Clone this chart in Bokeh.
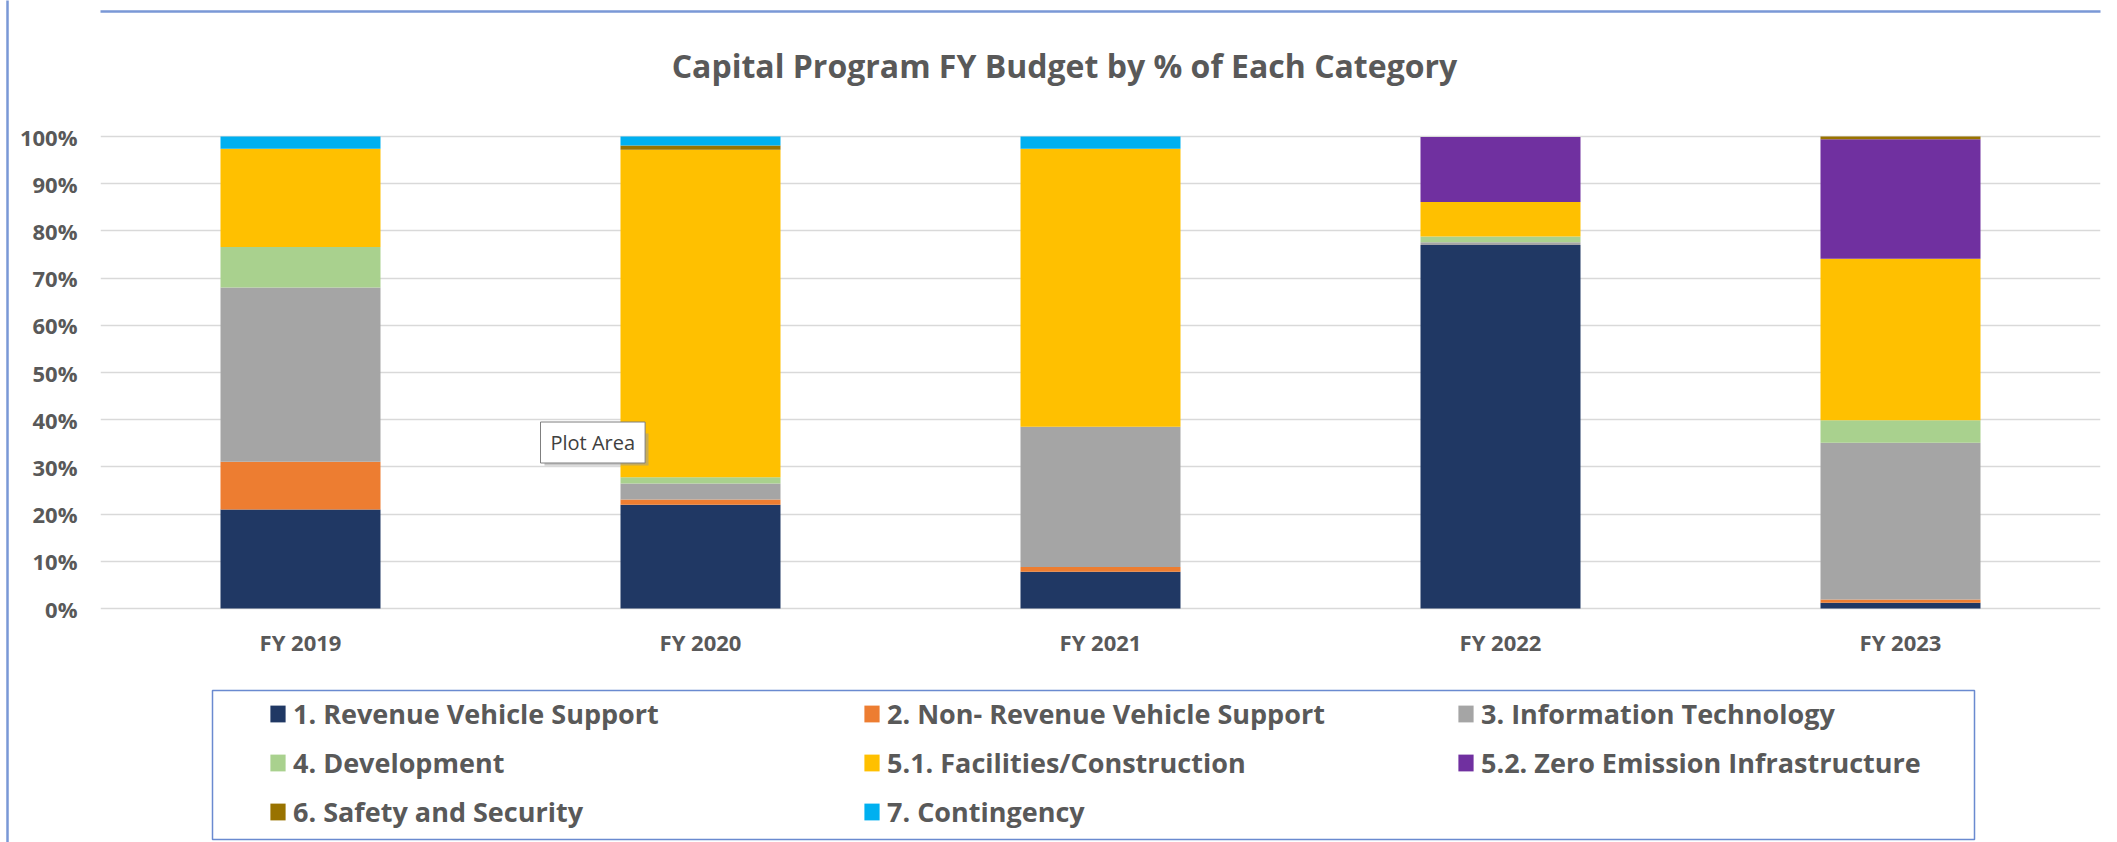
from bokeh.plotting import figure
from bokeh.models import (FactorRange, Range1d, ColumnDataSource, Legend, LegendItem,
                          FixedTicker, NumeralTickFormatter, Label, BoxAnnotation, LinearAxis)
from bokeh.embed import file_html
from bokeh.resources import INLINE

# ---- data (percent of each fiscal year's budget) ----
years = ["FY 2019", "FY 2020", "FY 2021", "FY 2022", "FY 2023"]
categories = ["1. Revenue Vehicle Support", "2. Non- Revenue Vehicle Support",
              "3. Information Technology", "4. Development",
              "5.1. Facilities/Construction", "5.2. Zero Emission Infrastructure",
              "6. Safety and Security", "7. Contingency"]
revenue_vehicle = [21.0, 22.0, 7.8, 77.0, 1.2]
non_revenue_vehicle = [10.1, 1.1, 1.0, 0.0, 0.7]
information_tech = [36.9, 3.4, 29.7, 0.6, 33.2]
development = [8.6, 1.3, 0.0, 1.2, 4.8]
facilities = [20.8, 69.4, 58.9, 7.3, 34.2]
zero_emission = [0.0, 0.0, 0.0, 13.8, 25.3]
safety_security = [0.0, 0.9, 0.0, 0.0, 0.6]
contingency = [2.6, 1.9, 2.6, 0.0, 0.0]
y_ticks = [0, 0.1, 0.2, 0.3, 0.4, 0.5, 0.6, 0.7, 0.8, 0.9, 1.0]

colors = ["#203864", "#ED7D31", "#A5A5A5", "#A9D18E", "#FFC000", "#7030A0", "#997300", "#00B0F0"]
series = [revenue_vehicle, non_revenue_vehicle, information_tech, development,
          facilities, zero_emission, safety_security, contingency]
keys = ["s%d" % i for i in range(len(series))]

data = {"year": years}
for k, s in zip(keys, series):
    data[k] = [v / 100.0 for v in s]
source = ColumnDataSource(data)

FONT = "Open Sans"
TXT = "#595959"
FRAME_BLUE = "#7A98D6"

W, H = 2117, 842
LEFT, RIGHT = 100, 17          # frame spans x 100..2100
Y0, Y100 = 608, 136            # pixel rows of 0% and 100%
ppu = float(Y0 - Y100)
y_lo = -(H - Y0) / ppu
y_hi = 1 + Y100 / ppu


def sx(xpage):
    return xpage - LEFT


def sy(ypage):
    return H - ypage


p = figure(x_range=FactorRange(factors=years, range_padding=0), y_range=Range1d(y_lo, y_hi),
           width=W, height=H, output_backend="svg", toolbar_location=None,
           min_border_left=LEFT, min_border_right=RIGHT, min_border_top=0, min_border_bottom=0)
p.outline_line_color = None
p.background_fill_color = "white"
p.border_fill_color = "white"

renderers = p.vbar_stack(keys, x="year", width=0.4, color=colors, line_color=None, source=source)

# axes
p.yaxis.ticker = FixedTicker(ticks=y_ticks)
p.yaxis.formatter = NumeralTickFormatter(format="0%")
p.xaxis.fixed_location = 0
for ax in (p.xaxis[0], p.yaxis[0]):
    ax.axis_line_color = None
    ax.major_tick_line_color = None
    ax.minor_tick_line_color = None
    ax.major_tick_out = 0
    ax.major_tick_in = 0
    ax.major_label_text_font = FONT
    ax.major_label_text_font_style = "bold"
    ax.major_label_text_font_size = "22px"
    ax.major_label_text_color = TXT
p.yaxis.major_label_standoff = 23
# a blank axis title widens the label axis so the chart-frame line sits near the page edge
p.yaxis.axis_label = " "
p.yaxis.axis_label_standoff = 0
p.yaxis.axis_label_text_font_size = "5px"
p.xaxis.major_label_standoff = 18
p.xgrid.visible = False
p.ygrid.grid_line_color = "#D9D9D9"
p.ygrid.grid_line_width = 1.5

# left edge of the chart frame, drawn as a bare axis line
edge = LinearAxis(ticker=FixedTicker(ticks=[]), axis_line_color=FRAME_BLUE, axis_line_width=2.5,
                  major_tick_line_color=None, minor_tick_line_color=None,
                  major_tick_out=0, minor_tick_out=0, major_label_text_font_size="1px")
p.add_layout(edge, "left")

# outer chart border (top edge)
p.add_layout(BoxAnnotation(left=sx(9), right=sx(2140), top=sy(11), bottom=sy(900),
                           left_units="screen", right_units="screen",
                           top_units="screen", bottom_units="screen",
                           fill_alpha=0, line_color=FRAME_BLUE, line_alpha=1, line_width=2.5))

# title
p.add_layout(Label(x=sx(1064), y=sy(65), x_units="screen", y_units="screen",
                   text="Capital Program FY Budget by % of Each Category",
                   text_font=FONT, text_font_style="bold", text_font_size="32px",
                   text_color=TXT, text_align="center", text_baseline="alphabetic"))

# legend frame
p.add_layout(BoxAnnotation(left=sx(212), right=sx(1974), top=sy(690), bottom=sy(839),
                           left_units="screen", right_units="screen",
                           top_units="screen", bottom_units="screen",
                           fill_alpha=0, line_color="#6A8AD0", line_alpha=1, line_width=1.5))

items = [LegendItem(label=c, renderers=[r]) for c, r in zip(categories, renderers)]
legend = Legend(items=items, orientation="horizontal", ncols=3,
                location=(sx(268), sy(829.7)), margin=0, padding=10, spacing=12,
                glyph_width=19, glyph_height=21, label_standoff=6,
                label_width=557, label_height=30,
                label_text_font=FONT, label_text_font_style="bold",
                label_text_font_size="27px", label_text_color=TXT,
                border_line_color=None, background_fill_alpha=0)
p.add_layout(legend, "center")

# Excel "Plot Area" tooltip
p.add_layout(BoxAnnotation(left=sx(544), right=sx(648), top=sy(433), bottom=sy(465),
                           left_units="screen", right_units="screen",
                           top_units="screen", bottom_units="screen",
                           fill_color="#9A9A9A", fill_alpha=0.55, line_color=None))
p.add_layout(Label(x=sx(540), y=sy(442), x_units="screen", y_units="screen", text="Plot Area",
                   text_font=FONT, text_font_size="20px", text_color="#404040",
                   text_baseline="middle", padding=(10, 7),
                   background_fill_color="white", border_line_color="#7F7F7F"))

open("out.html", "w").write(file_html(p, INLINE))
